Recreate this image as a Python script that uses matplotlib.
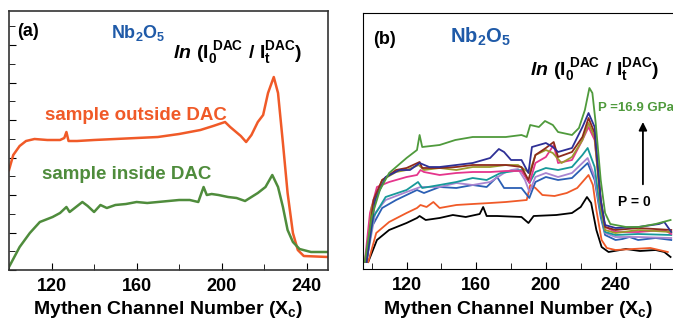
import numpy as np
import matplotlib
matplotlib.use("Agg")
from matplotlib import pyplot as plt
from matplotlib.ticker import MultipleLocator

plt.rcParams['font.family'] = ['Liberation Sans', 'DejaVu Sans']
plt.rcParams['font.weight'] = 'bold'
plt.rcParams['axes.labelweight'] = 'bold'
plt.rcParams['mathtext.fontset'] = 'custom'
plt.rcParams['mathtext.rm'] = 'Liberation Sans:bold'
plt.rcParams['mathtext.bf'] = 'Liberation Sans:bold'
plt.rcParams['mathtext.it'] = 'Liberation Sans:bold:italic'
plt.rcParams['mathtext.default'] = 'rm'

# ---- panel (a): sample outside / inside DAC ----
out_ch = [100, 102, 105, 108, 112, 118, 124, 126, 127, 128, 132, 140, 150, 160, 170, 180,
          190, 196, 201.6, 204, 209, 211.5, 214, 217, 219.5, 221.8, 224.5, 226.5, 228.8,
          231, 233.5, 235.8, 238.6, 250]
out_val = [100, 115, 124, 129, 131, 130, 130, 132, 138, 129, 129, 130, 131, 132, 133, 136,
           140, 144, 148, 143, 134, 128, 135, 148, 155, 177, 193, 177, 127,
           77, 37, 20, 14, 13]

in_ch = [100, 105, 109.8, 114.5, 120.5, 124, 127, 128.5, 134.5, 137, 140, 143, 146, 150,
         155, 160, 165, 170, 175, 180, 185, 189, 191.5, 193, 195.3, 198.5, 203, 207, 211,
         217, 220.6, 223.8, 226.5, 228.8, 231, 233.5, 236.6, 242, 250]
in_val = [3, 23, 37, 48, 53, 57, 63, 58, 68, 64, 58, 65, 62, 65,
          66, 68, 67, 68, 69, 70, 70, 68, 83, 75, 76, 75, 73, 72, 69,
          77, 83, 95, 83, 63, 40, 28, 21, 18, 18]

# ---- panel (b): pressure series, P = 0 (black) up to 16.9 GPa (green) ----
black_ch = [98, 103, 110, 120, 126, 127.5, 131, 139, 146.6, 154, 162, 164, 166, 172, 186, 190,
            193, 206, 215, 220, 223.6, 226, 229, 232, 236, 246, 254, 263, 268, 271.6]
black_val = [7, 29, 39, 46, 51, 53, 49, 51, 54, 52, 55, 62, 53, 53, 52, 46,
             53, 54, 56, 62, 72, 66, 39, 22, 17, 20, 18, 19, 17, 12]

orange_ch = [98, 102.6, 110, 120, 126, 128, 131.5, 135.4, 139, 148.6, 158, 168, 177, 189, 191,
             194, 198, 205, 212, 218, 222, 224.5, 227, 229, 232, 235, 240, 250, 260, 270]
orange_val = [7, 36, 47, 56, 61, 64, 62, 67, 61, 64, 65, 66, 67, 69, 84,
              81, 74, 73, 76, 81, 89, 94, 84, 59, 29, 21, 19, 20, 21, 17]

blue_ch = [97, 100, 106, 114, 120, 126, 130, 139, 148.6, 158, 166, 172, 176, 186, 190.5, 194,
           200, 207, 215, 221, 224, 228, 231.5, 234, 240, 244, 248, 253, 263, 272]
blue_val = [7, 42, 61, 69, 74, 79, 76, 82, 81, 84, 82, 92, 81, 81, 71, 87,
            92, 89, 91, 101, 106, 89, 52, 34, 29, 30, 32, 29, 31, 29]

lav_ch = [97, 102, 108, 120, 128, 139, 148.6, 158, 168, 176, 180, 184, 188, 190.6, 194, 200,
          207, 215, 221, 224, 228, 231.5, 234, 240, 253, 272]
lav_val = [7, 56, 69, 77, 82, 82, 86, 84, 87, 96, 99, 100, 89, 77, 92, 96,
           92, 96, 106, 111, 92, 56, 36, 32, 32, 31]

teal_ch = [97, 101, 108, 120, 126.6, 129, 139, 148.6, 158, 166, 174, 186, 190.6, 194, 200, 207,
           215, 221, 224, 228, 231.5, 234, 240, 253, 272]
teal_val = [7, 52, 72, 79, 87, 81, 84, 87, 91, 89, 96, 99, 86, 97, 101, 99,
            102, 114, 121, 102, 56, 37, 34, 35, 34]

pink_ch = [96, 99, 103, 110, 120, 126, 128, 130, 139, 148.6, 158, 168, 177, 186, 190.6, 194,
           200, 204.5, 207, 215, 221, 224.5, 228, 231.5, 234, 240, 253, 268, 272]
pink_val = [7, 56, 82, 87, 92, 94, 99, 97, 94, 96, 97, 97, 98, 98, 86, 106,
            112, 124, 106, 109, 129, 142, 129, 69, 42, 37, 37, 39, 35]

olive_ch = [97, 100, 106, 114, 120, 127, 130, 139, 148.6, 158, 168, 177, 184, 190.6, 194, 200,
            204, 209, 215, 221, 224.5, 228, 231.5, 234, 240, 253, 272]
olive_val = [7, 62, 89, 97, 99, 104, 99, 101, 99, 102, 102, 104, 104, 96, 114, 119,
             116, 106, 112, 129, 146, 132, 62, 39, 36, 39, 37]

brown_ch = [97, 101, 106, 114, 120, 127.5, 129, 139, 148.6, 158, 168, 177, 186, 190, 194, 200,
            204.5, 207, 215, 221, 224.5, 228, 231.5, 234, 240, 253, 272]
brown_val = [7, 69, 89, 99, 101, 107, 101, 101, 102, 104, 104, 104, 102, 89, 114, 121,
             127, 112, 117, 132, 151, 136, 69, 42, 39, 41, 39]

navy_ch = [97, 102, 108, 116, 122, 127.5, 133, 139, 148.6, 158, 168, 173, 176, 180, 186, 190,
           192, 200, 204, 207, 215, 221, 224.5, 228, 231.5, 234, 240, 253, 265, 268, 272]
navy_val = [7, 69, 92, 99, 99, 106, 102, 102, 104, 106, 111, 120, 117, 109, 109, 96,
            122, 126, 122, 117, 121, 142, 156, 142, 69, 44, 41, 42, 45, 47, 37]

green_ch = [96, 100, 104.7, 110, 120, 126, 127.5, 129, 139, 148, 158, 168, 177, 186, 189, 191,
            196, 199.5, 204, 207, 215, 219, 222.4, 225, 226.7, 228.6, 231.5, 234, 237, 246,
            253.5, 263, 271.6]
green_val = [7, 52, 79, 96, 111, 119, 134, 122, 124, 129, 132, 132, 132, 134, 132, 144,
             142, 148, 144, 137, 134, 141, 159, 181, 176, 146, 89, 56, 45, 42,
             42, 45, 49]

series_b = [
    (black_ch, black_val, '#000000'),
    (orange_ch, orange_val, '#f05a28'),
    (blue_ch, blue_val, '#2b5fb4'),
    (lav_ch, lav_val, '#a985d0'),
    (teal_ch, teal_val, '#17999a'),
    (pink_ch, pink_val, '#e5358c'),
    (olive_ch, olive_val, '#9c9a2e'),
    (brown_ch, brown_val, '#8e2b1c'),
    (navy_ch, navy_val, '#2e3096'),
    (green_ch, green_val, '#4f9a3c'),
]

xticks = [120, 160, 200, 240]
xtick_labels = ['120', '160', '200', '240']

c_orange = '#f05a28'
c_green = '#4f8c3c'
c_title = '#1f5aa8'

W, H = 673, 322
fig = plt.figure(figsize=(W / 100, H / 100), dpi=100)
axa = fig.add_axes([9 / W, 1 - 270 / H, 319 / W, 259 / H])
axb = fig.add_axes([363 / W, 1 - 269 / H, 310 / W, 256 / H])

ylabel_txt = r'$\mathit{ln}\ (\mathrm{I}_0^{\ \mathrm{DAC}}\ /\ \mathrm{I}_t^{\mathrm{DAC}})$'

# panel (a)
axa.plot(out_ch, out_val, color=c_orange, lw=1.8)
axa.plot(in_ch, in_val, color=c_green, lw=1.8)
axa.set_xlim(100, 250)
axa.set_ylim(0, 259)
axa.yaxis.set_major_locator(MultipleLocator(37.5))
axa.yaxis.set_minor_locator(MultipleLocator(18.75))
axa.tick_params(axis='y', which='both', labelleft=False)
axa.text(0.025, 0.919, '(a)', transform=axa.transAxes, fontsize=13, va='center')
axa.text(0.32, 0.915, r'Nb$_2$O$_5$', transform=axa.transAxes, fontsize=13, color=c_title,
         va='center')
axa.text(0.514, 0.819, ylabel_txt, transform=axa.transAxes, fontsize=14, va='baseline')
axa.text(0.113, 0.598, 'sample outside DAC', transform=axa.transAxes, fontsize=13.5,
         color=c_orange, va='center')
axa.text(0.103, 0.367, 'sample inside DAC', transform=axa.transAxes, fontsize=13.5,
         color=c_green, va='center')
for s in axa.spines.values():
    s.set_color('#333333')
    s.set_linewidth(1.2)

# panel (b)
for ch, val, col in series_b:
    axb.plot(ch, val, color=col, lw=1.3)
axb.set_xlim(95, 273)
axb.set_ylim(0, 256)
axb.set_yticks([])
axb.spines['right'].set_visible(False)
axb.text(0.032, 0.898, '(b)', transform=axb.transAxes, fontsize=13, va='center')
axb.text(0.281, 0.906, r'Nb$_2$O$_5$', transform=axb.transAxes, fontsize=14.5, color=c_title,
         va='center')
axb.text(0.539, 0.758, ylabel_txt, transform=axb.transAxes, fontsize=14, va='baseline')
axb.text(0.758, 0.629, 'P =16.9 GPa', transform=axb.transAxes, fontsize=9.5, color='#4f9a3c',
         va='center')
axb.annotate('', xy=(0.903, 0.585), xytext=(0.903, 0.32), xycoords='axes fraction',
             arrowprops=dict(arrowstyle='-|>', color='black', lw=1.3, mutation_scale=12))
axb.text(0.823, 0.262, 'P = 0', transform=axb.transAxes, fontsize=10, va='center')

for ax in (axa, axb):
    ax.set_xticks(xticks)
    ax.set_xticklabels(xtick_labels, fontweight='bold', fontsize=13)
    ax.xaxis.set_minor_locator(MultipleLocator(20))
    ax.tick_params(axis='both', which='both', direction='in')
    ax.tick_params(axis='x', which='major', length=5, pad=6)
    ax.tick_params(axis='x', which='minor', length=4)
    ax.tick_params(axis='y', which='major', length=5)
    ax.tick_params(axis='y', which='minor', length=4)
    ax.set_xlabel(r'Mythen Channel Number (X$_c$)', fontsize=14, fontweight='bold',
                  labelpad=3)

fig.savefig('out.png', dpi=100)
